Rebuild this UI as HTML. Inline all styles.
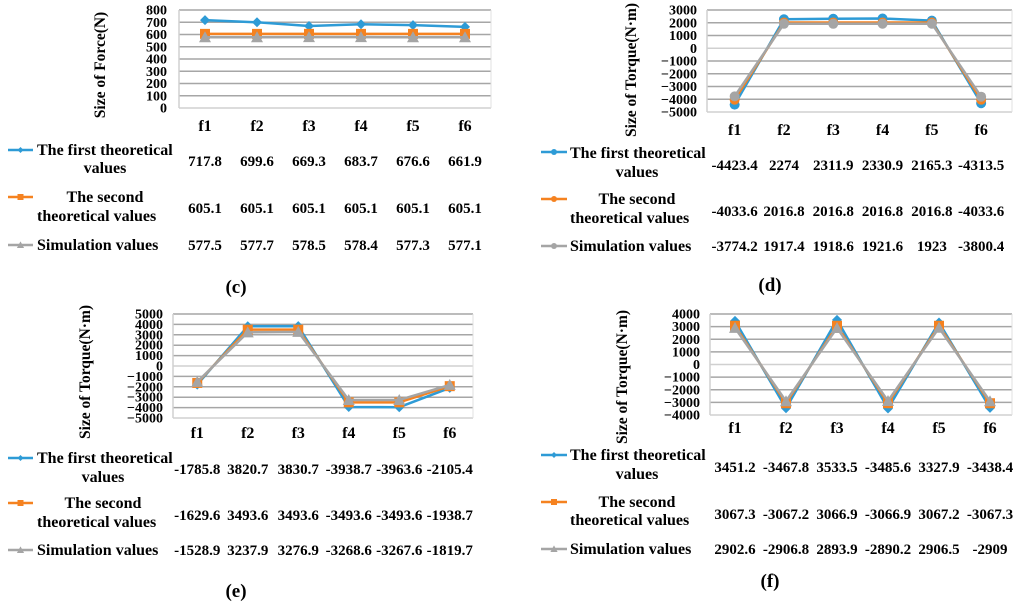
<!DOCTYPE html>
<html><head><meta charset="utf-8"><style>
html,body{margin:0;padding:0;background:#fff;}
svg{display:block;font-family:"Liberation Serif",serif;font-weight:bold;}
</style></head><body>
<svg id="fig" width="1024" height="604" viewBox="0 0 1024 604" xmlns="http://www.w3.org/2000/svg"></svg>
<script>
// ---- data ----
const categories = ["f1","f2","f3","f4","f5","f6"];
const seriesNames = ["The first theoretical values","The second theoretical values","Simulation values"];
const cFirst = [717.8,699.6,669.3,683.7,676.6,661.9];
const cSecond = [605.1,605.1,605.1,605.1,605.1,605.1];
const cSim = [577.5,577.7,578.5,578.4,577.3,577.1];
const cTicks = [0,100,200,300,400,500,600,700,800];
const dFirst = [-4423.4,2274,2311.9,2330.9,2165.3,-4313.5];
const dSecond = [-4033.6,2016.8,2016.8,2016.8,2016.8,-4033.6];
const dSim = [-3774.2,1917.4,1918.6,1921.6,1923,-3800.4];
const dTicks = [-5000,-4000,-3000,-2000,-1000,0,1000,2000,3000];
const eFirst = [-1785.8,3820.7,3830.7,-3938.7,-3963.6,-2105.4];
const eSecond = [-1629.6,3493.6,3493.6,-3493.6,-3493.6,-1938.7];
const eSim = [-1528.9,3237.9,3276.9,-3268.6,-3267.6,-1819.7];
const eTicks = [-5000,-4000,-3000,-2000,-1000,0,1000,2000,3000,4000,5000];
const fFirst = [3451.2,-3467.8,3533.5,-3485.6,3327.9,-3438.4];
const fSecond = [3067.3,-3067.2,3066.9,-3066.9,3067.2,-3067.3];
const fSim = [2902.6,-2906.8,2893.9,-2890.2,2906.5,-2909];
const fTicks = [-4000,-3000,-2000,-1000,0,1000,2000,3000,4000];

const NS="http://www.w3.org/2000/svg";
const svg=document.getElementById('fig');
const colors=["#2e9bd6","#f58220","#a5a5a5"];
function el(tag,attrs,parent,text){const e=document.createElementNS(NS,tag);for(const k in attrs)e.setAttribute(k,attrs[k]);if(text!==undefined)e.textContent=text;(parent||svg).appendChild(e);return e;}

function marker(g,type,x,y,c){
  let m;
  if(type==="diamond")m=el('polygon',{points:`${x},${y-5} ${x+5},${y} ${x},${y+5} ${x-5},${y}`,fill:c},g);
  else if(type==="square")m=el('rect',{x:x-5,y:y-5,width:10,height:10,fill:c},g);
  else if(type==="triangle")m=el('polygon',{points:`${x},${y-6} ${x+6},${y+5} ${x-6},${y+5}`,fill:c},g);
  else m=el('circle',{cx:x,cy:y,r:5,fill:c},g);
  return m;
}

function panel(p){
  const g=el('g',{});
  
  
  const vmin=p.ticks[0],vmax=p.ticks[p.ticks.length-1];
  const yS=v=>p.yb-(v-vmin)/(vmax-vmin)*(p.yb-p.yt);
  const xS=i=>p.x0+p.cw*(i+0.5);
  p.ticks.forEach(t=>{
    const y=yS(t);
    const ln=el('line',{x1:p.gx0,x2:p.gx1,y1:y,y2:y,stroke:(t===vmin||t===0&&vmin<0)?"#d0d0d0":"#a6a6a6","stroke-width":1.5},g);
    
    
    const tx=el('text',{x:p.lx,y:y+4.5,"text-anchor":"end","font-size":14,"textLength":undefined},g,String(t).replace('-','−'));
    tx.removeAttribute('textLength');
    
    
  });
  el('line',{x1:p.gx0,x2:p.gx0,y1:p.yt,y2:p.yb,stroke:"#d0d0d0","stroke-width":1.5},g);
  el('line',{x1:p.gx1,x2:p.gx1,y1:p.yt,y2:p.yb,stroke:"#e0e0e0","stroke-width":1},g);
  const at=el('text',{x:0,y:0,"text-anchor":"middle","font-size":15.5,transform:`translate(${p.tx},${p.ty}) rotate(-90)`},g,p.title);
  
  
  categories.forEach((c,i)=>{
    const t=el('text',{x:xS(i),y:p.fy,"text-anchor":"middle","font-size":16},g,c);
    
    
  });
  p.series.forEach((s,si)=>{
    const pts=s.map((v,i)=>xS(i)+","+yS(v)).join(" ");
    const pl=el('polyline',{points:pts,fill:"none",stroke:colors[si],"stroke-width":2.5,"stroke-linejoin":"round"},g);
    
    
    s.forEach((v,i)=>{
      const m=marker(g,p.markers[si],xS(i),yS(v),colors[si]);
      
      
    });
  });
  const rowsLab=[["The first theoretical","values"],["The second","theoretical values"],["Simulation values"]];
  p.rows.forEach((r,si)=>{
    const ly=r.ly;
    const lk=el('line',{x1:p.kx0,x2:p.kx1,y1:r.ky,y2:r.ky,stroke:colors[si],"stroke-width":2.5},g);
    
    
    const cx=(p.kx0+p.kx1)/2;
    const km=p.markers[si]==="circle"?el('circle',{cx:cx,cy:r.ky,r:3,fill:colors[si]},g):marker(g,p.markers[si],cx,r.ky,colors[si]);
    if(p.markers[si]!=="circle")km.setAttribute('transform',`translate(${cx},${r.ky}) scale(0.6) translate(${-cx},${-r.ky})`);
    
    
    const lines=rowsLab[si];
    lines.forEach((t,li)=>{
      let x=p.labC,anchor="middle";
      if(lines.length===1||(si===0&&li===0)){x=p.labL;anchor="start";}
      if(si===1&&li===1){x=p.labL;anchor="start";}
      const tt=el('text',{x:x,y:ly[li],"text-anchor":anchor,"font-size":16},g,t);
      
      
    });
    p.series[si].forEach((v,i)=>{
      const tv=el('text',{x:xS(i),y:r.vy,"text-anchor":"middle","font-size":15},g,String(v));
      
      
    });
  });
  const cap=el('text',{x:p.capx,y:p.capy,"text-anchor":"middle","font-size":19},g,"("+p.id+")");
  
  
}

panel({id:"c",ticks:cTicks,series:[cFirst,cSecond,cSim],markers:["diamond","square","triangle"],
  x0:179,cw:52,gx0:179,gx1:491,yt:10,yb:108,lx:167,tx:105,ty:65,fy:131,title:"Size of Force(N)",
  kx0:8,kx1:33,labL:37,labC:105,
  rows:[{ky:150,ly:[155,173],vy:166},{ky:197,ly:[202,221],vy:213},{ky:245,ly:[250],vy:250}],capx:236,capy:293});
panel({id:"d",ticks:dTicks,series:[dFirst,dSecond,dSim],markers:["circle","circle","circle"],
  x0:710,cw:49.3,gx0:707,gx1:1012,yt:10,yb:112,lx:697,tx:636,ty:70,fy:135,title:"Size of Torque(N·m)",
  kx0:541,kx1:567,labL:570,labC:637,
  rows:[{ky:152,ly:[158,177],vy:170},{ky:199,ly:[204,223],vy:216},{ky:246,ly:[251],vy:251}],capx:770,capy:291});
panel({id:"e",ticks:eTicks,series:[eFirst,eSecond,eSim],markers:["diamond","square","triangle"],
  x0:172,cw:50.5,gx0:173,gx1:473,yt:314,yb:418,lx:163,tx:90,ty:372,fy:438,title:"Size of Torque(N·m)",
  kx0:8,kx1:33,labL:37,labC:103,
  rows:[{ky:458,ly:[463,482],vy:474},{ky:503,ly:[508,527],vy:520},{ky:550,ly:[555],vy:555}],capx:236,capy:597});
panel({id:"f",ticks:fTicks,series:[fFirst,fSecond,fSim],markers:["diamond","square","triangle"],
  x0:709.5,cw:51,gx0:710,gx1:1012,yt:314,yb:415,lx:700,tx:627,ty:377,fy:433,title:"Size of Torque(N·m)",
  kx0:541,kx1:567,labL:570,labC:637,
  rows:[{ky:455,ly:[460,479],vy:472},{ky:502,ly:[507,525],vy:519},{ky:549,ly:[554],vy:554}],capx:770,capy:587});
</script>
</body></html>
